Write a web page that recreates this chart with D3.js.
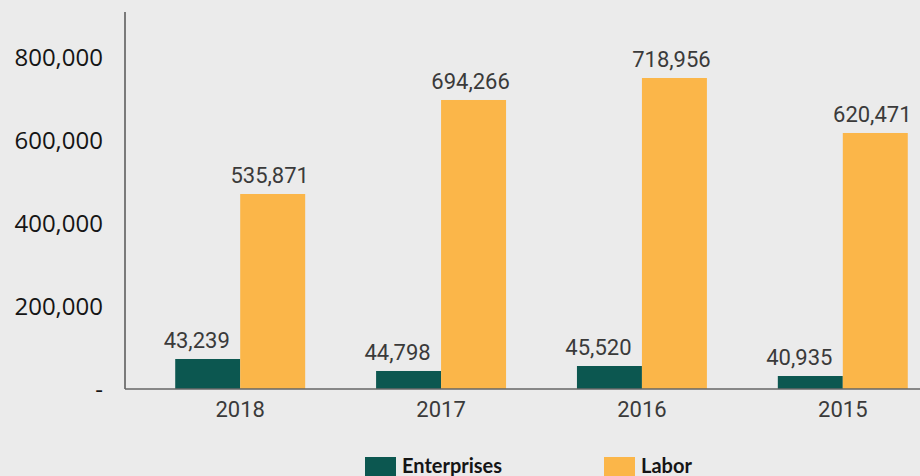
<!DOCTYPE html>
<html>
<head>
<meta charset="utf-8">
<script src="https://cdn.jsdelivr.net/npm/d3@7"></script>
<style>
	body { margin: 0; background: #ebebeb; overflow: hidden; }
	svg { display: block; }
</style>
</head>
<body>
<script>
// Years in the order the source chart shows them
const years = ["2018", "2017", "2016", "2015"]
// Printed value labels
const enterprisesLabel = [43239, 44798, 45520, 40935]
const laborLabel = [535871, 694266, 718956, 620471]
// Bar heights as drawn in the source, read against its axis
// (the original bars are not exactly to scale with their labels)
const enterprisesBar = [72300, 43400, 55400, 31300]
const laborBar = [469900, 696400, 749400, 616900]
// Axis ticks
const yTicks = [0, 200000, 400000, 600000, 800000]
const seriesNames = ["Enterprises", "Labor"]
const seriesColors = ["#0c5750", "#fbb649"]

var width = 920
var height = 476

var svg = d3.select("body").append("svg")
	.attr("width", width)
	.attr("height", height)

var x = d3.scaleBand()
	.domain(years)
	.range([125, 958])
	.paddingInner(0.353)
	.paddingOuter(0.25)

var x1 = d3.scaleBand()
	.domain(seriesNames)
	.range([0, x.bandwidth()])

var y = d3.scaleLinear()
	.domain([0, 800000])
	.range([389, 57])

var fmt = d3.format(",")

// y axis: labels only, "-" for zero
var yAxis = d3.axisLeft(y)
	.tickValues(yTicks)
	.tickSize(0)
	.tickPadding(22)
	.tickFormat(function(d) { return d === 0 ? "-" : fmt(d) })

var gy = svg.append("g")
	.attr("transform", "translate(125,0)")
	.call(yAxis)
gy.select(".domain").remove()
gy.selectAll("text")
	.attr("dy", ".35em")
	.style("font-family", "'Open Sans', sans-serif")
	.style("font-size", "24px")
	.style("fill", "#151515")

// vertical axis line and baseline
svg.append("line")
	.attr("x1", 125).attr("x2", 125)
	.attr("y1", 12).attr("y2", y(0))
	.attr("stroke", "#555")
	.attr("stroke-width", 1.5)

var groups = []
years.forEach(function(yr, i) {
	groups.push({year: yr, key: "Enterprises", bar: enterprisesBar[i], label: enterprisesLabel[i], dx: -11})
	groups.push({year: yr, key: "Labor", bar: laborBar[i], label: laborLabel[i], dx: -3})
})

var color = d3.scaleOrdinal().domain(seriesNames).range(seriesColors)

svg.selectAll(".bar")
	.data(groups)
	.enter().append("rect")
	.attr("class", "bar")
	.attr("x", function(d) { return x(d.year) + x1(d.key) })
	.attr("width", x1.bandwidth())
	.attr("y", function(d) { return y(d.bar) })
	.attr("height", function(d) { return y(0) - y(d.bar) })
	.style("fill", function(d) { return color(d.key) })

svg.append("line")
	.attr("x1", 125).attr("x2", width)
	.attr("y1", y(0)).attr("y2", y(0))
	.attr("stroke", "#666")
	.attr("stroke-width", 1.5)

svg.selectAll(".val")
	.data(groups)
	.enter().append("text")
	.attr("class", "val")
	.attr("x", function(d) { return x(d.year) + x1(d.key) + x1.bandwidth() / 2 + d.dx })
	.attr("y", function(d) { return y(d.bar) - 11 })
	.attr("text-anchor", "middle")
	.style("font-family", "Roboto, sans-serif")
	.style("font-size", "22px")
	.style("fill", "#3a3a3a")
	.text(function(d) { return fmt(d.label) })

// year labels under each group
svg.selectAll(".year")
	.data(years)
	.enter().append("text")
	.attr("class", "year")
	.attr("x", function(d) { return x(d) + x.bandwidth() / 2 })
	.attr("y", y(0) + 28)
	.attr("text-anchor", "middle")
	.style("font-family", "Roboto, sans-serif")
	.style("font-size", "22px")
	.style("fill", "#3a3a3a")
	.text(function(d) { return d })

// legend at the bottom (cut off by the frame like the source)
var legendX = [365, 604]
var legend = svg.selectAll(".legend")
	.data(seriesNames)
	.enter().append("g")
	.attr("class", "legend")
	.attr("transform", function(d, i) { return "translate(" + legendX[i] + ",457)" })

legend.append("rect")
	.attr("width", 31)
	.attr("height", 24)
	.style("fill", color)

legend.append("text")
	.attr("x", 37)
	.attr("y", 16)
	.style("font-family", "Lato, sans-serif")
	.style("font-weight", "bold")
	.style("font-size", "20px")
	.style("fill", "#151515")
	.text(function(d) { return d })
</script>
</body>
</html>
